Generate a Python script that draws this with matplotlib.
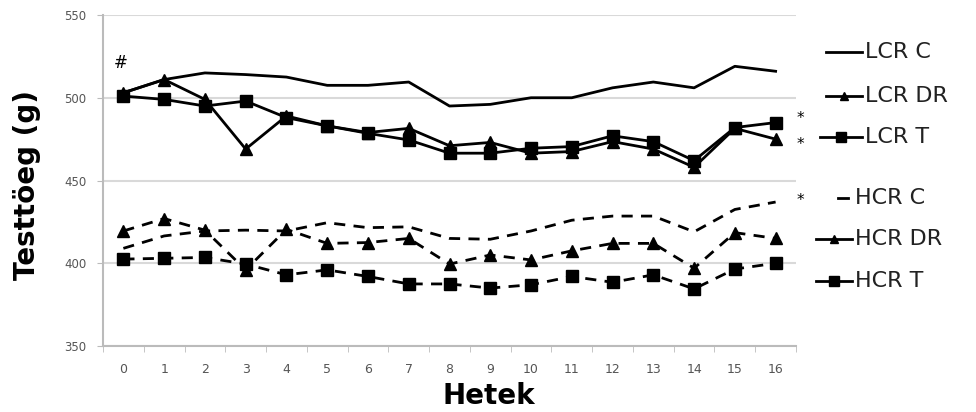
import matplotlib.pyplot as plt
import numpy as np
from matplotlib.lines import Line2D

weeks = list(range(17))

lcr_c = [503, 511, 515, 514, 512.5, 507.5, 507.5, 509.5, 495, 496, 500, 500, 506, 509.5, 506, 519, 516]
lcr_dr = [503, 511, 499, 469, 489, 483, 479, 481.5, 471, 473, 466.5, 467.5, 473.5, 469, 458, 481.5, 475]
lcr_t = [501, 499, 495, 498, 488, 483, 478.5, 474.5, 466.5, 466.5, 469.5, 470.5, 477, 473.5, 462, 482, 485]
hcr_c = [409, 416.5, 419.5, 420, 419.5, 424.5, 421.5, 422, 415, 414.5, 419.5, 426, 428.5, 428.5, 419, 432.5, 437]
hcr_dr = [419.5, 427, 420, 396, 420.5, 412, 412.5, 415, 399.5, 405, 402, 407.5, 412, 412, 397, 418.5, 415]
hcr_t = [402.5, 403, 403.5, 399.5, 393, 396, 392, 387.5, 387.5, 385, 387, 392, 388.5, 393, 384.5, 396.5, 400]

labels = ["LCR C", "LCR DR", "LCR T", "HCR C", "HCR DR", "HCR T"]
series = [lcr_c, lcr_dr, lcr_t, hcr_c, hcr_dr, hcr_t]
styles = [("-", None), ("-", "^"), ("-", "s"), ("--", None), ("--", "^"), ("--", "s")]

W, H = 976, 412
fig = plt.figure(figsize=(W / 100, H / 100), dpi=100)
ax = fig.add_axes([103 / W, 1 - 346 / H, (796 - 103) / W, (346 - 15) / H])

for vals, (ls, mk) in zip(series, styles):
    ax.plot(weeks, vals, color="black", linewidth=2, linestyle=ls,
            marker=mk, markersize=8 if mk == "^" else 9,
            dashes=(4, 3) if ls == "--" else (None, None), zorder=3)

ax.set_xlim(-0.5, 16.5)
ax.set_ylim(350, 550)
ax.set_yticks([350, 400, 450, 500, 550])
ax.set_xticks(weeks)
ax.set_xticks(np.arange(-0.5, 17, 1), minor=True)
ax.tick_params(axis="x", which="major", length=0, labelsize=9, colors="#555555", pad=12)
ax.tick_params(axis="x", which="minor", length=4, color="#bbbbbb", direction="out")
ax.tick_params(axis="y", length=4, color="#bbbbbb", labelsize=8.5, labelcolor="#555555", pad=8)
ax.grid(axis="y", color="#d9d9d9", linewidth=1.5)
for s in ["top", "right"]:
    ax.spines[s].set_visible(False)
for s in ["left", "bottom"]:
    ax.spines[s].set_color("#bbbbbb")
    ax.spines[s].set_linewidth(1.5)

fig.text(489 / W, 1 - 396 / H, "Hetek", ha="center", va="center",
         fontsize=20, fontweight="heavy", family="DejaVu Sans")
fig.text(27 / W, 1 - 185 / H, "Testtöeg (g)", ha="center", va="center", rotation=90,
         fontsize=20, fontweight="heavy", family="DejaVu Sans")

# annotations
fig.text(121 / W, 1 - 63 / H, "#", ha="center", va="center", fontsize=12)
for yy in [118, 145, 200]:
    fig.text(800 / W, 1 - yy / H, "*", ha="center", va="center", fontsize=11)

# legend drawn manually
leg = fig.add_axes([0, 0, 1, 1])
leg.set_xlim(0, W)
leg.set_ylim(H, 0)
leg.axis("off")
leg_rows = [52, 96, 137, 198, 239, 281]
leg_text_x = [865, 865, 865, 855, 855, 855]
leg_line = [(826, 862), (826, 862), (820, 862), (838, 848), (816, 852), (816, 852)]
for lab, (ls, mk), yy, tx, (x0, x1) in zip(labels, styles, leg_rows, leg_text_x, leg_line):
    leg.add_line(Line2D([x0, x1], [yy, yy], color="black", linewidth=2))
    if mk:
        leg.plot([(x0 + x1) / 2], [yy], marker=mk, color="black", markersize=6 if mk == "^" else 7)
    leg.text(tx, yy, lab, ha="left", va="center", fontsize=16, family="DejaVu Sans", color="#222222")

fig.savefig("out.png", dpi=100)
